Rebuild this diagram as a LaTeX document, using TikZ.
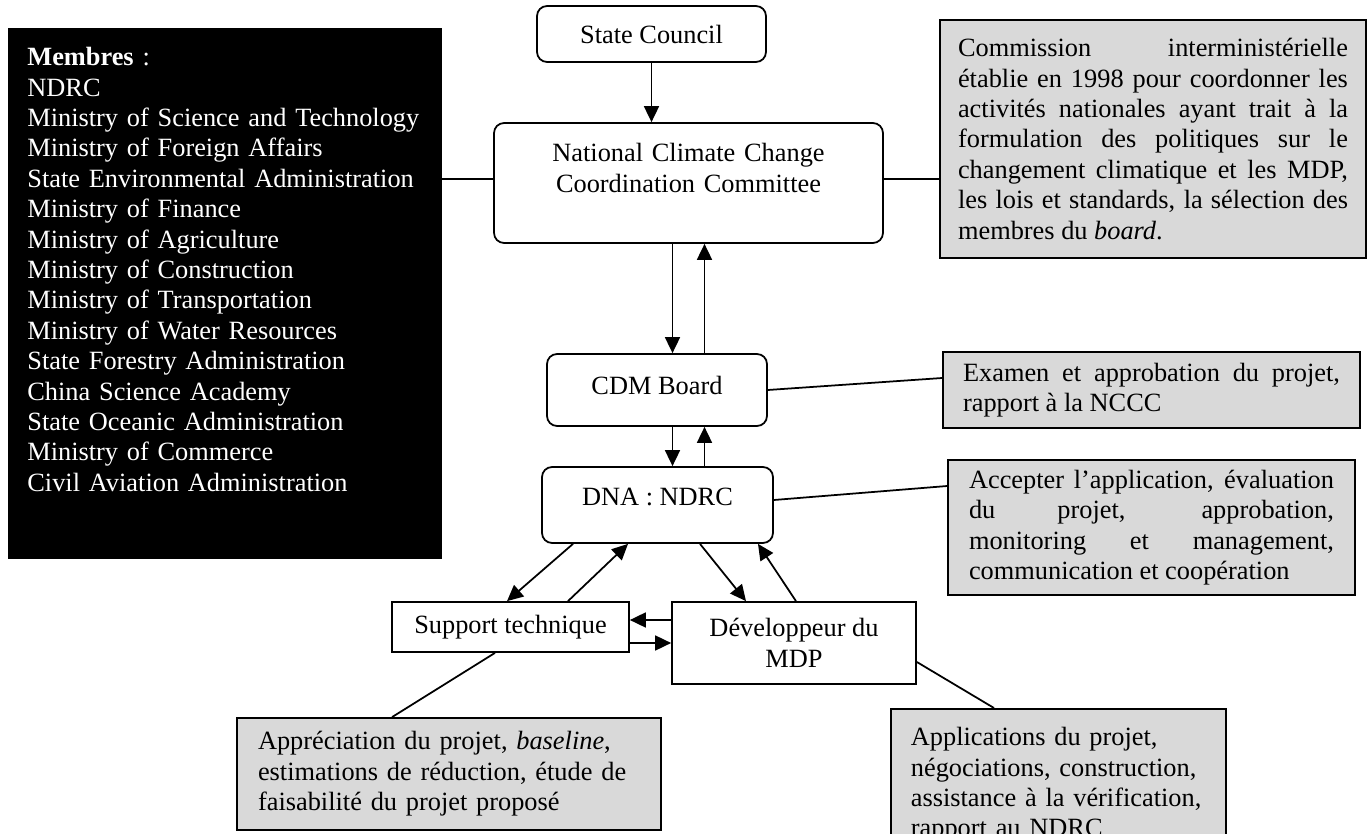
\documentclass[tikz,border=0pt]{standalone}
\usepackage{fontspec}
\setmainfont{Liberation Serif}
\usetikzlibrary{arrows.meta}
\definecolor{notegray}{RGB}{217,217,217}
\setlength{\parindent}{0pt}
\hyphenpenalty=10000

\begin{document}
\begin{tikzpicture}[x=0.02cm,y=-0.02cm,
    font=\fontsize{15}{17.3}\selectfont,
    line width=1pt,
    >={Triangle[length=0.32cm,width=0.3cm]},
    rbox/.style={draw,rounded corners=0.2cm,inner sep=0pt,align=center},
    sbox/.style={draw,inner sep=0pt,align=center},
    note/.style={draw,fill=notegray,inner xsep=0.4cm,inner ysep=0.2cm,align=justify}]
  \useasboundingbox (0,0) rectangle (1370,834);

  %% MEMBERS
  \node[fill=black,draw=black,text=white,anchor=north west,align=left,
        text width=7.9cm,inner xsep=0.37cm,inner ysep=0.37cm,minimum height=10.58cm]
    (members) at (8,28)
    {\textbf{Membres} :\\NDRC\\Ministry of Science and Technology\\
     Ministry of Foreign Affairs\\State Environmental Administration\\
     Ministry of Finance\\Ministry of Agriculture\\Ministry of Construction\\
     Ministry of Transportation\\Ministry of Water Resources\\
     State Forestry Administration\\China Science Academy\\
     State Oceanic Administration\\Ministry of Commerce\\
     Civil Aviation Administration\par\vspace*{0.96cm}};

  %% BOXES
  % council and committee
  \node[rbox,minimum width=4.58cm,minimum height=1.12cm] (council) at (651.5,34) {State Council};
  \node[rbox,minimum width=7.78cm,minimum height=2.4cm,text width=7cm] (nccc) at (688.5,183)
    {National Climate Change\\Coordination Committee\\\mbox{}};
  % board and DNA
  \node[rbox,minimum width=4.4cm,minimum height=1.44cm,text depth=0.2cm] (cdm) at (657,390) {CDM Board};
  \node[rbox,minimum width=4.62cm,minimum height=1.52cm,text depth=0.32cm] (dna) at (657.5,505) {DNA : NDRC};
  % support and developer
  \node[sbox,minimum width=4.74cm,minimum height=1cm] (support) at (510.5,627) {Support technique};
  \node[sbox,minimum width=4.88cm,minimum height=1.64cm] (dev) at (794,643) {Développeur du\\MDP};

  %% NOTES
  \node[note,text width=7.8cm,inner xsep=0.36cm,minimum height=4.76cm] (ncccnote) at (1153,139)
    {Commission interministérielle\linebreak établie en 1998 pour coordonner les\linebreak
     activités nationales ayant trait à la\linebreak formulation des politiques sur le\linebreak
     changement climatique et les MDP,\linebreak les lois et standards, la sélection des\linebreak
     membres du \textit{board}.};
  \node[note,text width=7.54cm,minimum height=1.52cm] (cdmnote) at (1151.5,390)
    {Examen et approbation du projet,\linebreak rapport à la NCCC};
  \node[note,text width=7.3cm,inner xsep=0.42cm,minimum height=2.58cm] (dnanote) at (1151.5,527.5)
    {Accepter l’application, évaluation\linebreak du projet, approbation,\linebreak
     monitoring et management,\linebreak communication et coopération};
  \node[note,align=left,text width=7.64cm,inner xsep=0.42cm,minimum height=2.24cm] (supportnote) at (449,774)
    {Appréciation du projet, \textit{baseline},\\estimations de réduction, étude de\\faisabilité du projet proposé};
  \node[note,align=left,anchor=north west,text width=5.9cm,inner ysep=0.37cm] (devnote) at (890,708)
    {Applications du projet,\\négociations, construction,\\assistance à la vérification,\\rapport au NDRC};

  %% LINES TO NOTES
  \draw ([yshift=0.08cm]nccc.west) -- ([yshift=0.08cm]nccc.west -| members.east);
  \draw ([yshift=0.08cm]nccc.east) -- ([yshift=0.08cm]nccc.east -| ncccnote.west);
  \draw (cdm.east) -- ([yshift=0.24cm]cdmnote.west);
  \draw ([yshift=0.1cm]dna.east) -- ([yshift=0.83cm]dnanote.west);
  \draw ([xshift=-0.31cm]support.south) -- ([xshift=-1.14cm]supportnote.north);
  \draw ([yshift=-0.38cm]dev.east) -- ([xshift=2.08cm]devnote.north west);

  %% ARROWS
  \draw[->] (council.south) -- (council.south |- nccc.north);
  \draw[->] ([xshift=-0.32cm]nccc.south) -- ([xshift=-0.32cm]nccc.south |- cdm.north);
  \draw[->] ([xshift=0.32cm]nccc.south |- cdm.north) -- ([xshift=0.32cm]nccc.south);
  \draw[->] ([xshift=-0.32cm]nccc.south |- cdm.south) -- ([xshift=-0.32cm]nccc.south |- dna.north);
  \draw[->] ([xshift=0.32cm]nccc.south |- dna.north) -- ([xshift=0.32cm]nccc.south |- cdm.south);
  % DNA and support
  \draw[->] ([xshift=-1.69cm]dna.south) -- ([xshift=-0.07cm]support.north);
  \draw[->] ([xshift=1.15cm]support.north) -- ([xshift=-0.59cm]dna.south);
  % DNA and developer
  \draw[->] ([xshift=0.85cm]dna.south) -- ([xshift=-0.96cm]dev.north);
  \draw[->] ([xshift=0.04cm]dev.north) -- ([xshift=2.01cm]dna.south);
  % support and developer
  \draw[->] ([yshift=0.46cm]dev.west) -- ([yshift=0.46cm]dev.west -| support.east);
  \draw[->] (dev.west -| support.east) -- (dev.west);
\end{tikzpicture}
\end{document}
